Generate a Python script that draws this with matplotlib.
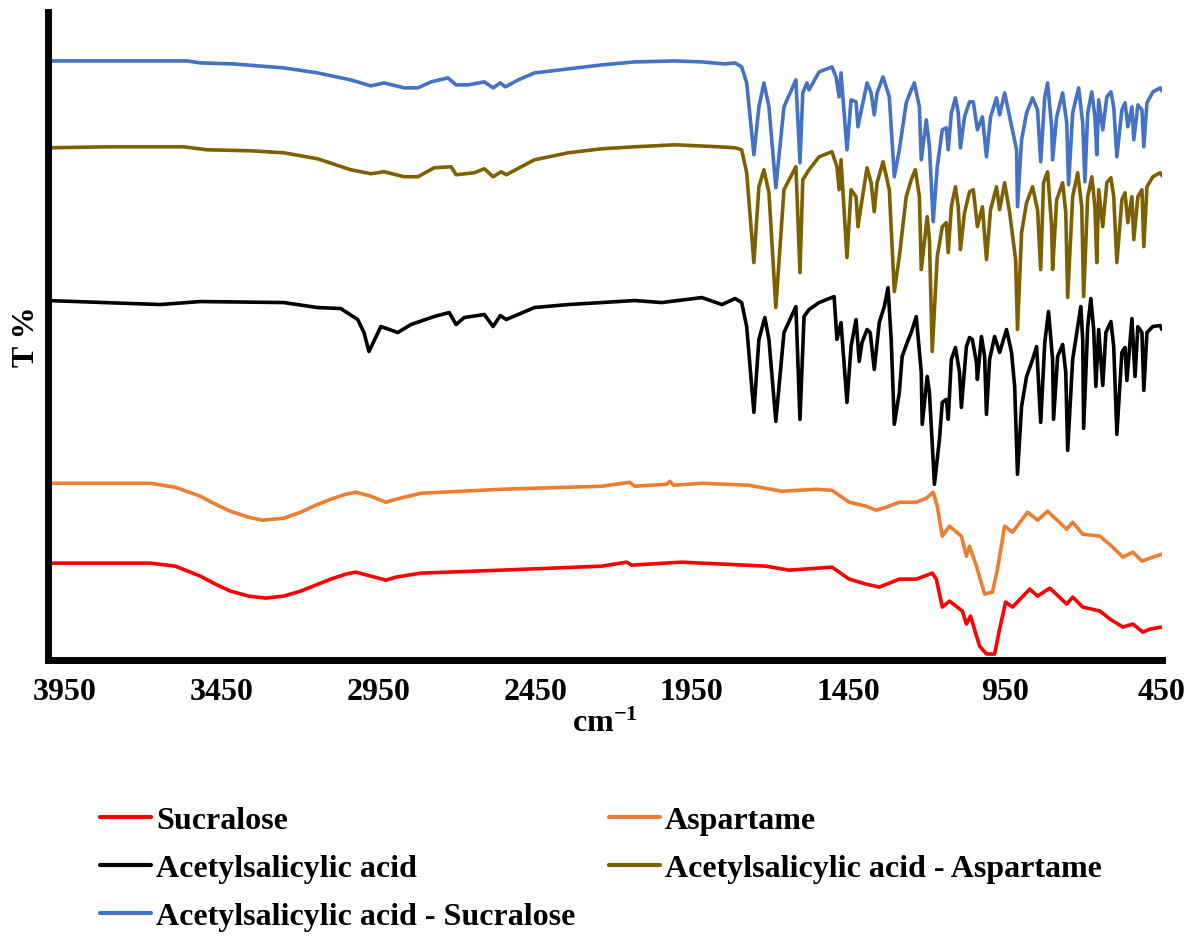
import numpy as np
import matplotlib.pyplot as plt

# FTIR traces: wavenumber (cm-1) and transmittance
# (arbitrary units, traces are stacked with an offset as in the original)
sucralose_wn = [4004, 3678, 3598, 3518, 3470, 3422, 3364, 3310, 3252, 3198,
                3150, 3102, 3054, 3022, 2974, 2926, 2894, 2814, 2558, 2238,
                2158, 2142, 1982, 1918, 1714, 1640, 1503, 1448, 1394, 1352,
                1288, 1234, 1183, 1170, 1151, 1128, 1087, 1074, 1061, 1032,
                1010, 984, 968, 949, 927, 872, 847, 808, 754, 735,
                703, 648, 616, 575, 543, 511, 488, 450]
sucralose_t = [97, 97, 94, 84, 76, 69, 64, 62, 64, 69,
               75, 81, 86, 88, 84, 80, 83, 87, 90, 94,
               98, 95, 98, 97, 94, 90, 93, 81, 76, 73,
               81, 81, 87, 81, 53, 59, 49, 36, 44, 14,
               6, 6, 31, 58, 53, 71, 64, 72, 56, 63,
               53, 49, 41, 33, 36, 28, 31, 33]

aspartame_wn = [4004, 3678, 3598, 3518, 3470, 3422, 3364, 3320, 3252, 3198,
                3150, 3102, 3054, 3022, 2974, 2926, 2894, 2814, 2558, 2238,
                2148, 2132, 2030, 2020, 2008, 1918, 1768, 1663, 1554, 1503,
                1448, 1394, 1362, 1330, 1288, 1234, 1202, 1180, 1167, 1151,
                1128, 1090, 1074, 1064, 1042, 1016, 991, 975, 952, 927,
                879, 847, 815, 754, 735, 703, 648, 607, 575, 543,
                514, 488, 450]
aspartame_t = [177, 177, 173, 164, 156, 149, 143, 140, 142, 148,
               155, 161, 166, 168, 164, 158, 161, 167, 171, 174,
               178, 174, 176, 179, 175, 177, 175, 169, 171, 170,
               158, 154, 150, 153, 158, 158, 162, 168, 154, 124,
               134, 124, 104, 114, 94, 66, 68, 91, 134, 128,
               148, 140, 149, 131, 138, 126, 124, 113, 103, 108,
               99, 102, 106]

asa_wn = [4004, 3646, 3518, 3252, 3144, 3070, 3016, 2996, 2980, 2942,
          2888, 2846, 2772, 2724, 2702, 2676, 2612, 2584, 2561, 2542,
          2452, 2344, 2238, 2132, 2046, 1918, 1854, 1812, 1791, 1775,
          1752, 1736, 1717, 1704, 1682, 1656, 1618, 1605, 1592, 1576,
          1544, 1496, 1487, 1474, 1455, 1442, 1426, 1416, 1407, 1391,
          1381, 1368, 1352, 1336, 1324, 1314, 1304, 1288, 1279, 1263,
          1250, 1234, 1218, 1215, 1199, 1192, 1176, 1160, 1151, 1138,
          1132, 1122, 1109, 1096, 1090, 1074, 1064, 1055, 1042, 1039,
          1026, 1016, 1010, 1000, 984, 968, 946, 930, 920, 911,
          898, 882, 866, 850, 837, 824, 812, 799, 796, 783,
          767, 757, 751, 735, 719, 709, 703, 700, 687, 677,
          668, 661, 652, 639, 629, 613, 604, 594, 578, 568,
          562, 546, 536, 527, 514, 508, 498, 479, 456, 450]
asa_t = [360, 356, 359, 358, 353, 352, 341, 328, 309, 334,
         328, 336, 344, 348, 336, 343, 346, 334, 345, 341,
         353, 356, 358, 360, 358, 363, 356, 362, 358, 334,
         248, 321, 343, 321, 239, 328, 354, 241, 344, 351,
         358, 364, 321, 338, 258, 314, 341, 299, 318, 331,
         328, 291, 338, 354, 373, 321, 236, 268, 304, 318,
         328, 344, 288, 236, 284, 268, 176, 221, 258, 261,
         241, 301, 313, 288, 253, 314, 323, 321, 298, 281,
         324, 304, 246, 301, 324, 308, 331, 308, 274, 186,
         254, 284, 298, 314, 238, 318, 349, 301, 241, 304,
         316, 288, 210, 301, 334, 354, 321, 232, 334, 362,
         331, 274, 331, 275, 328, 339, 314, 226, 308, 313,
         280, 342, 284, 334, 328, 270, 328, 334, 335, 331]

asa_asp_wn = [4004, 3806, 3572, 3496, 3358, 3252, 3144, 3038, 2974, 2932,
              2868, 2824, 2772, 2718, 2702, 2644, 2612, 2584, 2558, 2542,
              2452, 2344, 2238, 2132, 2004, 1864, 1812, 1791, 1775, 1752,
              1736, 1720, 1704, 1682, 1656, 1618, 1605, 1596, 1576, 1544,
              1503, 1487, 1480, 1474, 1455, 1442, 1426, 1420, 1407, 1391,
              1378, 1368, 1359, 1340, 1320, 1304, 1288, 1266, 1250, 1237,
              1224, 1218, 1199, 1192, 1183, 1167, 1151, 1138, 1132, 1122,
              1109, 1100, 1093, 1080, 1064, 1052, 1039, 1023, 1010, 997,
              978, 968, 952, 936, 917, 911, 898, 882, 863, 847,
              837, 828, 815, 802, 799, 786, 767, 757, 751, 735,
              719, 706, 700, 687, 674, 664, 658, 652, 639, 626,
              613, 604, 594, 578, 568, 559, 546, 540, 527, 514,
              508, 498, 479, 456, 450]
asa_asp_t = [513, 514, 514, 511, 510, 508, 502, 491, 487, 489,
             484, 484, 493, 494, 486, 488, 492, 484, 489, 486,
             501, 508, 512, 514, 516, 514, 513, 511, 488, 398,
             474, 491, 468, 353, 471, 494, 388, 481, 491, 504,
             509, 494, 471, 501, 403, 471, 464, 434, 461, 493,
             478, 449, 478, 499, 471, 369, 404, 464, 481, 491,
             464, 391, 444, 421, 309, 404, 434, 438, 408, 454,
             474, 454, 411, 448, 469, 471, 434, 454, 401, 451,
             474, 451, 478, 448, 401, 331, 428, 458, 474, 451,
             391, 478, 489, 434, 391, 461, 478, 448, 363, 464,
             488, 454, 364, 464, 484, 454, 398, 471, 434, 478,
             483, 464, 398, 461, 468, 438, 464, 421, 464, 471,
             414, 474, 484, 488, 485]

asa_suc_wn = [4004, 3560, 3518, 3412, 3252, 3144, 3038, 2974, 2932, 2868,
              2824, 2782, 2728, 2702, 2664, 2612, 2584, 2561, 2545, 2504,
              2452, 2344, 2238, 2132, 2004, 1918, 1844, 1812, 1791, 1775,
              1752, 1736, 1720, 1704, 1682, 1656, 1618, 1605, 1596, 1583,
              1576, 1544, 1503, 1490, 1480, 1474, 1455, 1442, 1426, 1420,
              1407, 1391, 1378, 1368, 1359, 1340, 1320, 1304, 1288, 1266,
              1250, 1240, 1224, 1218, 1202, 1192, 1180, 1167, 1151, 1138,
              1132, 1122, 1109, 1100, 1093, 1080, 1064, 1052, 1039, 1023,
              1010, 997, 978, 968, 952, 936, 914, 911, 898, 882,
              863, 847, 837, 824, 815, 802, 799, 786, 767, 754,
              748, 735, 716, 703, 696, 687, 674, 664, 658, 652,
              639, 626, 613, 604, 594, 578, 568, 559, 546, 540,
              527, 514, 508, 498, 479, 456, 450]
asa_suc_t = [600, 600, 598, 597, 593, 588, 581, 575, 578, 573,
             573, 579, 583, 576, 576, 579, 573, 578, 574, 581,
             588, 592, 596, 599, 600, 599, 597, 598, 594, 578,
             506, 554, 578, 554, 473, 554, 581, 498, 568, 578,
             571, 589, 594, 584, 564, 588, 511, 561, 559, 534,
             554, 578, 568, 546, 568, 584, 564, 484, 511, 558,
             571, 578, 554, 501, 541, 514, 439, 494, 531, 533,
             511, 548, 563, 548, 513, 544, 559, 559, 531, 544,
             504, 544, 563, 546, 568, 544, 511, 454, 521, 548,
             563, 551, 499, 564, 578, 534, 501, 544, 568, 538,
             476, 548, 573, 538, 479, 548, 569, 544, 506, 561,
             531, 564, 569, 554, 504, 551, 558, 534, 554, 521,
             556, 551, 514, 558, 569, 573, 570]

names = ['Sucralose', 'Aspartame', 'Acetylsalicylic acid',
         'Acetylsalicylic acid - Aspartame', 'Acetylsalicylic acid - Sucralose']
colors = ['#FF0000', '#ED7D31', '#000000', '#7F6000', '#4472C4']
xticks = [3950, 3450, 2950, 2450, 1950, 1450, 950, 450]

plt.rcParams['font.family'] = ['Liberation Serif', 'DejaVu Serif']
plt.rcParams['font.weight'] = 'bold'
plt.rcParams['mathtext.fontset'] = 'custom'
plt.rcParams['mathtext.rm'] = 'Liberation Serif:bold'
plt.rcParams['mathtext.bf'] = 'Liberation Serif:bold'

fig = plt.figure(figsize=(11.96, 9.37), dpi=100)
ax = fig.add_axes([48/1196, 1 - 661/937, 1114/1196, 648/937])

data = [(sucralose_wn, sucralose_t), (aspartame_wn, aspartame_t), (asa_wn, asa_t),
        (asa_asp_wn, asa_asp_t), (asa_suc_wn, asa_suc_t)]
lines = []
for (wn, t), c, name in zip(data, colors, names):
    l, = ax.plot(wn, t, color=c, lw=2.6, label=name,
                 solid_joinstyle='round', solid_capstyle='round')
    lines.append(l)

ax.set_xlim(4004, 450)
ax.set_ylim(0, 649)
ax.set_xticks(xticks)
ax.set_yticks([])
ax.spines['top'].set_visible(False)
ax.spines['right'].set_visible(False)
ax.spines['left'].set_linewidth(5)
ax.spines['bottom'].set_linewidth(5)
ax.tick_params(axis='x', length=0, pad=12, labelsize=23)
for lab in ax.get_xticklabels():
    lab.set_fontweight('bold')
ax.set_xlabel(r'$\mathbf{cm^{-1}}$', fontsize=23, labelpad=2)
ax.set_ylabel('T %', fontsize=23, fontweight='bold', labelpad=5)

# legend rows: Sucralose / Aspartame, ASA / ASA-Asp, ASA-Suc
order = [0, 2, 4, 1, 3]
leg = fig.legend([lines[i] for i in order], [names[i] for i in order],
                 loc='upper left', bbox_to_anchor=(100/1196, 1 - 807/937),
                 ncol=2, frameon=False, fontsize=23, handlelength=1.6,
                 handletextpad=0.15, columnspacing=1.05, labelspacing=0.58,
                 borderpad=0, borderaxespad=0)
for l in leg.get_lines():
    l.set_linewidth(3)

fig.savefig('out.png', dpi=100)
